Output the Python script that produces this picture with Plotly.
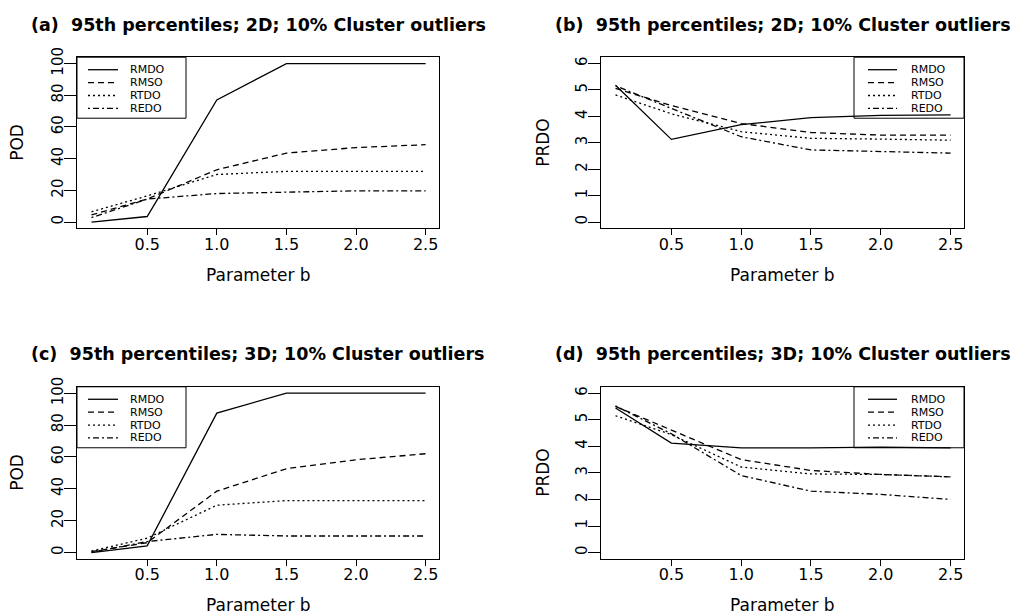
import plotly.graph_objects as go

# ---------------- data ----------------
b_values = [0.1, 0.5, 1.0, 1.5, 2.0, 2.5]
methods = ["RMDO", "RMSO", "RTDO", "REDO"]

# (a) POD, 2D
pod_2d_rmdo = [0.0, 3.5, 77.0, 100.0, 100.0, 100.0]
pod_2d_rmso = [4.5, 14.5, 33.0, 43.5, 47.0, 48.8]
pod_2d_rtdo = [6.5, 16.5, 30.0, 32.0, 32.0, 32.0]
pod_2d_redo = [2.8, 14.5, 18.0, 19.0, 19.7, 19.7]

# (b) PRDO, 2D
prdo_2d_rmdo = [5.18, 3.13, 3.69, 3.95, 4.04, 4.06]
prdo_2d_rmso = [5.06, 4.41, 3.73, 3.39, 3.29, 3.29]
prdo_2d_rtdo = [4.81, 4.10, 3.42, 3.17, 3.14, 3.10]
prdo_2d_redo = [5.16, 4.31, 3.23, 2.73, 2.67, 2.61]

# (c) POD, 3D
pod_3d_rmdo = [0.0, 4.2, 87.5, 100.0, 100.0, 100.0]
pod_3d_rmso = [0.6, 6.2, 38.5, 52.6, 58.2, 62.0]
pod_3d_rtdo = [1.0, 9.0, 29.7, 32.6, 32.6, 32.6]
pod_3d_redo = [0.2, 6.9, 11.4, 10.4, 10.4, 10.4]

# (d) PRDO, 3D
prdo_3d_rmdo = [5.44, 4.12, 3.94, 3.94, 3.97, 3.94]
prdo_3d_rmso = [5.50, 4.60, 3.50, 3.09, 2.94, 2.85]
prdo_3d_rtdo = [5.15, 4.44, 3.22, 2.96, 2.94, 2.85]
prdo_3d_redo = [5.52, 4.47, 2.90, 2.31, 2.19, 2.00]

x_tick_vals = [0.5, 1.0, 1.5, 2.0, 2.5]
x_tick_text = ["0.5", "1.0", "1.5", "2.0", "2.5"]
pod_tick_vals = [0, 20, 40, 60, 80, 100]
prdo_tick_vals = [0, 1, 2, 3, 4, 5, 6]

titles = [
    "(a)  95th percentiles; 2D; 10% Cluster outliers",
    "(b)  95th percentiles; 2D; 10% Cluster outliers",
    "(c)  95th percentiles; 3D; 10% Cluster outliers",
    "(d)  95th percentiles; 3D; 10% Cluster outliers",
]
x_label = "Parameter b"

# ---------------- layout helpers ----------------
W, H = 1021, 616
FONT = "DejaVu Sans"


def px(x):
    return x / W


def py(y):
    return 1 - y / H


dash_styles = {
    "RMDO": "solid",
    "RMSO": "6px,4px",
    "RTDO": "2px,3px",
    "REDO": "2px,3px,6px,3px",
}

panels = [
    dict(series=[pod_2d_rmdo, pod_2d_rmso, pod_2d_rtdo, pod_2d_redo],
         box=(77, 48, 439, 222), yr=[-4, 104], yt=pod_tick_vals, ylab="POD",
         leg="left", title_y=15, ylab_x=17, xlab_y=269),
    dict(series=[prdo_2d_rmdo, prdo_2d_rmso, prdo_2d_rtdo, prdo_2d_redo],
         box=(601, 48, 964, 222), yr=[-0.24, 6.24], yt=prdo_tick_vals, ylab="PRDO",
         leg="right", title_y=15, ylab_x=543, xlab_y=269),
    dict(series=[pod_3d_rmdo, pod_3d_rmso, pod_3d_rtdo, pod_3d_redo],
         box=(77, 383, 439, 558), yr=[-4, 104], yt=pod_tick_vals, ylab="POD",
         leg="left", title_y=350, ylab_x=17, xlab_y=605),
    dict(series=[prdo_3d_rmdo, prdo_3d_rmso, prdo_3d_rtdo, prdo_3d_redo],
         box=(601, 383, 964, 558), yr=[-0.24, 6.24], yt=prdo_tick_vals, ylab="PRDO",
         leg="right", title_y=350, ylab_x=543, xlab_y=605),
]

fig = go.Figure()
layout = dict(
    width=W, height=H,
    margin=dict(l=0, r=0, t=0, b=0),
    paper_bgcolor="white", plot_bgcolor="white",
    showlegend=False,
    font=dict(family=FONT, color="black"),
)
annotations = []
shapes = []

for i, p in enumerate(panels):
    k = "" if i == 0 else str(i + 1)
    xa, ya = "x" + k, "y" + k
    x0, y0, x1, y1 = p["box"]
    for m, ser in zip(methods, p["series"]):
        fig.add_trace(go.Scatter(
            x=b_values, y=ser, mode="lines", name=m,
            line=dict(color="black", width=1.3, dash=dash_styles[m]),
            xaxis=xa, yaxis=ya, hoverinfo="x+y+name",
        ))
    layout["xaxis" + k] = dict(
        domain=[px(x0), px(x1)], range=[-0.004, 2.596], anchor=ya,
        tickvals=x_tick_vals, ticktext=x_tick_text,
        ticks="outside", ticklen=6, tickcolor="black", tickwidth=1,
        showline=True, mirror=True, linecolor="black", linewidth=1,
        showgrid=False, zeroline=False,
        tickfont=dict(family=FONT, size=16, color="black"),
        ticklabelstandoff=-5,
    )
    layout["yaxis" + k] = dict(
        domain=[py(y1), py(y0)], range=p["yr"], anchor=xa,
        tickvals=p["yt"], tickangle=-90,
        ticks="outside", ticklen=12, tickcolor="black", tickwidth=1,
        showline=True, mirror=True, linecolor="black", linewidth=1,
        showgrid=False, zeroline=False,
        tickfont=dict(family=FONT, size=15, color="black"),
        ticklabelstandoff=-5,
    )
    # panel title
    annotations.append(dict(
        text="<b>" + titles[i] + "</b>", xref="paper", yref="paper",
        x=px((x0 + x1) / 2), y=py(p["title_y"]), xanchor="center", yanchor="middle",
        showarrow=False, font=dict(family=FONT, size=17.5, color="black"),
    ))
    # axis titles
    annotations.append(dict(
        text=x_label, xref="paper", yref="paper",
        x=px((x0 + x1) / 2), y=py(p["xlab_y"]), xanchor="center", yanchor="middle",
        showarrow=False, font=dict(family=FONT, size=17, color="black"),
    ))
    annotations.append(dict(
        text=p["ylab"], xref="paper", yref="paper", textangle=-90,
        x=px(p["ylab_x"]), y=py((y0 + y1) / 2), xanchor="center", yanchor="middle",
        showarrow=False, font=dict(family=FONT, size=17, color="black"),
    ))
    # legend box
    if p["leg"] == "left":
        lx0, lx1 = x0, 186
        line_x0, line_x1, text_x = 88, 118, 129
    else:
        lx0, lx1 = 854, x1
        line_x0, line_x1, text_x = 868, 897, 910
    ly1 = y0 + 62
    shapes.append(dict(type="rect", xref="paper", yref="paper",
                       x0=px(lx0), x1=px(lx1), y0=py(y0), y1=py(ly1),
                       line=dict(color="black", width=1), fillcolor="rgba(0,0,0,0)"))
    for j, m in enumerate(methods):
        yy = y0 + 12.7 + j * 13.1
        shapes.append(dict(type="line", xref="paper", yref="paper",
                           x0=px(line_x0), x1=px(line_x1), y0=py(yy), y1=py(yy),
                           line=dict(color="black", width=1.3, dash=dash_styles[m])))
        annotations.append(dict(
            text=m, xref="paper", yref="paper", x=px(text_x), y=py(yy),
            xanchor="left", yanchor="middle", showarrow=False, borderpad=0,
            font=dict(family=FONT, size=11, color="black"),
        ))

layout["annotations"] = annotations
layout["shapes"] = shapes
fig.update_layout(**layout)
fig.write_html("out.html")
